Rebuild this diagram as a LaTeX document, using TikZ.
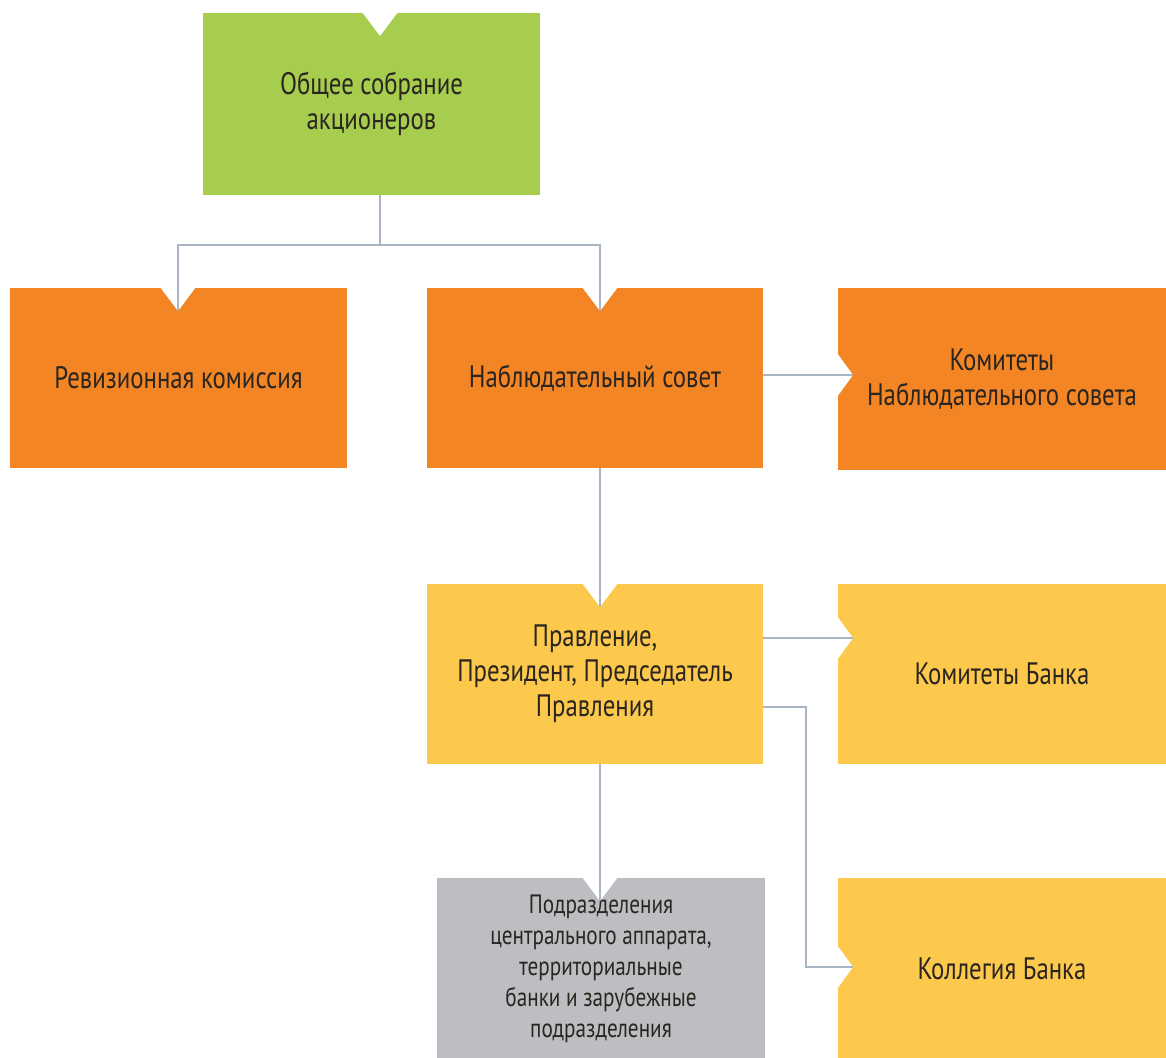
\documentclass[tikz,border=0pt]{standalone}
\usepackage{fontspec}
\setmainfont{PT Sans}[FakeStretch=0.8]
\definecolor{cgreen}{HTML}{A6CD4D}
\definecolor{corange}{HTML}{F38524}
\definecolor{cyellow}{HTML}{FCC94C}
\definecolor{cgrey}{HTML}{BDBEC1}
\definecolor{linec}{HTML}{A9B5C2}
\definecolor{txt}{HTML}{2A2520}
\begin{document}
\begin{tikzpicture}[x=1pt,y=-1pt]
\tikzset{
  box/.style={inner sep=0pt, align=center, text=txt, font=\fontsize{31}{35}\selectfont},
  smallbox/.style={box, font=\fontsize{26.5}{31}\selectfont},
  conn/.style={draw=linec, line width=1.4pt},
  notchfill/.style={fill=white},
}
\useasboundingbox (0,0) rectangle (1166,1057);
% boxes
\node[box, fill=cgreen, minimum width=337pt, minimum height=182pt] (gsa) at (371.5,104) {Общее собрание\\акционеров};
\node[box, fill=corange, minimum width=337pt, minimum height=180pt] (rev) at (178.5,378) {Ревизионная комиссия};
\node[box, fill=corange, minimum width=336pt, minimum height=180pt] (nab) at (595,378) {Наблюдательный совет};
\node[box, fill=corange, minimum width=328pt, minimum height=182pt] (kom) at (1002,379) {Комитеты\\Наблюдательного совета};
\node[box, fill=cyellow, minimum width=336pt, minimum height=180pt] (prav) at (595,674) {Правление,\\Президент, Председатель\\Правления};
\node[box, fill=cyellow, minimum width=328pt, minimum height=180pt] (komb) at (1002,674) {Комитеты Банка};
\node[smallbox, fill=cgrey, minimum width=328pt, minimum height=182pt] (grey) at (601,969) {Подразделения\\центрального аппарата,\\территориальные\\банки и зарубежные\\подразделения};
\node[box, fill=cyellow, minimum width=328pt, minimum height=182pt] (koll) at (1002,969) {Коллегия Банка};
% notches (top)
\fill[notchfill] (362,12) -- (398,12) -- (380,36) -- cycle;
\fill[notchfill] (160,287) -- (196,287) -- (178,311) -- cycle;
\fill[notchfill] (582,287) -- (618,287) -- (600,311) -- cycle;
\fill[notchfill] (582,583) -- (618,583) -- (600,607) -- cycle;
\fill[notchfill] (582,877) -- (618,877) -- (600,901) -- cycle;
% notches (left)
\fill[notchfill] (837,353) -- (837,397) -- (853,375) -- cycle;
\fill[notchfill] (837,616) -- (837,660) -- (853,638) -- cycle;
\fill[notchfill] (837,945) -- (837,989) -- (853,967) -- cycle;
% notch tips
\coordinate (gsa-out) at (380,195);
\coordinate (rev-in) at (178,311);
\coordinate (nab-in) at (600,311);
\coordinate (prav-in) at (600,607);
\coordinate (grey-in) at (600,901);
\coordinate (kom-in) at (853,375);
\coordinate (komb-in) at (853,638);
\coordinate (koll-in) at (853,967);
% connectors
\draw[conn] (gsa-out) -- ++(0,50) -| (rev-in);
\draw[conn] (gsa-out) ++(0,50) -| (nab-in);
\draw[conn] (nab.east |- kom-in) -- (kom-in);
\draw[conn] (nab.south -| nab-in) -- (prav-in);
\draw[conn] (prav.east |- komb-in) -- (komb-in);
\draw[conn] (prav.east |- 0,707) -- (806,707) |- (koll-in);
\draw[conn] (prav.south -| prav-in) -- (grey-in);
\end{tikzpicture}
\end{document}
